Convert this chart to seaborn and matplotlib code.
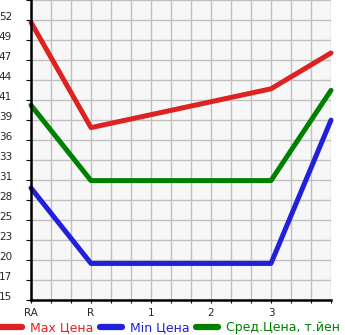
import numpy as np
import pandas as pd
import matplotlib
matplotlib.use("Agg")
import matplotlib.pyplot as plt
import seaborn as sns

categories = ["RA", "R", "1", "2", "3", ""]
max_price = [52.2, 38.1, np.nan, np.nan, 43.3, 48.1]
min_price = [30.0, 19.9, np.nan, np.nan, 19.9, 39.1]
avg_price = [41.1, 31.0, np.nan, np.nan, 31.0, 43.1]
series_names = ["Max Цена", "Min Цена", "Сред.Цена, т.йен"]
ytick_labels = ["15", "17", "20", "23", "25", "28", "31", "33", "36",
                "39", "41", "44", "47", "49", "52"]

colors = ["#dd2222", "#2020dd", "#008000"]
y_min, y_step = 15.0, 2.68

sns.set_style("white")
plt.rcParams["font.family"] = ["DejaVu Sans"]

rows = []
for name, vals in zip(series_names, [max_price, min_price, avg_price]):
    for i, v in enumerate(vals):
        rows.append({"pos": i, "value": v, "series": name})
df = pd.DataFrame(rows).dropna()

fig = plt.figure(figsize=(3.45, 3.35), dpi=100)
ax = fig.add_axes([31 / 345, 35 / 335, 300 / 345, 300 / 335])
ax.set_facecolor("#f7f7f7")

sns.lineplot(data=df, x="pos", y="value", hue="series", hue_order=series_names,
             palette=colors, linewidth=3.6, estimator=None, sort=True, ax=ax,
             legend=True)
for ln in ax.get_lines():
    ln.set_solid_capstyle("round")
    ln.set_clip_on(False)
    ln.set_zorder(2)

n = len(categories)
ax.set_xlim(0, n - 1)
ax.set_ylim(y_min, y_min + y_step * len(ytick_labels))
ax.set_xticks(range(n))
ax.set_xticklabels(categories)
ax.set_xticks(np.arange(0, n - 1 + 1e-9, 1 / 3), minor=True)
yt = [y_min + k * y_step for k in range(len(ytick_labels))]
ax.set_yticks(yt)
ax.set_yticklabels(ytick_labels)
ax.set_yticks([y_min + k * y_step for k in range(len(ytick_labels) + 1)], minor=True)
for lab in ax.get_yticklabels():
    lab.set_verticalalignment("baseline")

ax.grid(True, which="minor", color="#c0c0c0", linewidth=1.0)
ax.grid(True, which="major", color="#c0c0c0", linewidth=1.0)
ax.set_axisbelow(True)
ax.tick_params(axis="y", which="both", direction="out", length=3.6, width=0.8,
               color="black", labelsize=7.5, left=True)
ax.tick_params(axis="y", which="major", pad=10)
ax.tick_params(axis="x", which="both", direction="out", length=2.5, width=0.8,
               color="black", labelsize=7.5, pad=3, bottom=True)
ax.set_xlabel("")
ax.set_ylabel("")
for s in ["top", "right"]:
    ax.spines[s].set_visible(False)
for s in ["left", "bottom"]:
    ax.spines[s].set_color("black")
    ax.spines[s].set_linewidth(1.8)
    ax.spines[s].set_zorder(3)

handles, labels = ax.get_legend_handles_labels()
ax.get_legend().remove()
leg = fig.legend(handles, labels, loc="center left", bbox_to_anchor=(0, 7.5 / 335),
                 ncol=3, frameon=False, fontsize=9, handlelength=1.8,
                 handletextpad=0.6, columnspacing=0.5, borderpad=0,
                 borderaxespad=0)
for h in leg.legend_handles:
    h.set_linewidth(4.5)
for t, c in zip(leg.get_texts(), colors):
    t.set_color(c)

fig.savefig("out.png", dpi=100)
